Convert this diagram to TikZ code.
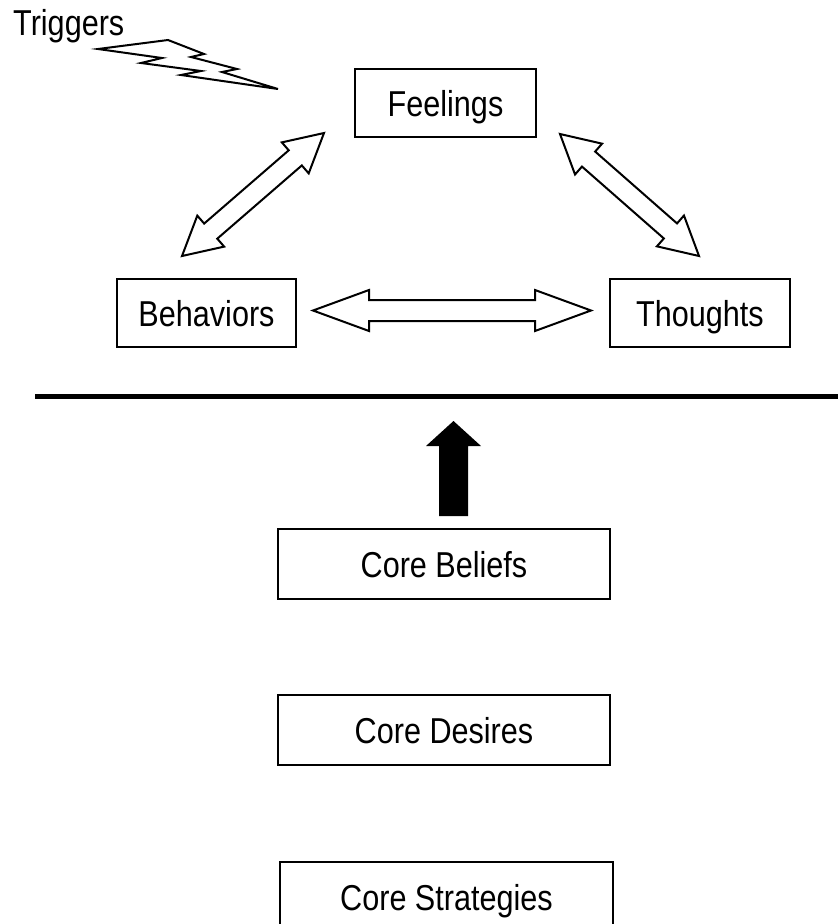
\documentclass[tikz,border=0pt]{standalone}
\usepackage{fontspec}
\setmainfont{Liberation Sans}[FakeStretch=0.85]
\usetikzlibrary{calc}
\tikzset{
  box/.style={draw=black, line width=2pt, rectangle, inner sep=0pt, minimum height=68pt,
              font=\fontsize{36}{42}\selectfont, text height=26pt, text depth=0pt},
  outl/.style={draw=black, line width=2pt, fill=white, line join=miter},
  thickline/.style={draw=black, line width=5pt},
  bolt/.style={draw=black, line width=2pt, line join=miter, fill=white}
}
\newcommand{\dblarrowshape}[5]{%
  \path[outl] (#1)
    -- ($(#1)!#3!(#2)!#4!90:(#2)$)
    -- ($(#1)!#3!(#2)!#5!90:(#2)$)
    -- ($(#2)!#3!(#1)!#5!-90:(#1)$)
    -- ($(#2)!#3!(#1)!#4!-90:(#1)$)
    -- (#2)
    -- ($(#2)!#3!(#1)!#4!90:(#1)$)
    -- ($(#2)!#3!(#1)!#5!90:(#1)$)
    -- ($(#1)!#3!(#2)!#5!-90:(#2)$)
    -- ($(#1)!#3!(#2)!#4!-90:(#2)$)
    -- cycle;}
\begin{document}
\begin{tikzpicture}[x=1pt,y=-1pt]
\useasboundingbox (0,0) rectangle (838,924);
% boxes
\node[box, minimum width=181pt] (feel) at (445.5,103) {Feelings};
\node[box, minimum width=179pt] (beh) at (206.5,313) {Behaviors};
\node[box, minimum width=180pt] (tho) at (700,313) {Thoughts};
\node[box, minimum width=332pt, minimum height=70pt] (bel) at (444,564) {Core Beliefs};
\node[box, minimum width=332pt, minimum height=70pt] (des) at (444,730) {Core Desires};
\node[box, minimum width=333pt, minimum height=70pt] (str) at (446.5,897) {Core Strategies};
% triggers
\node[anchor=base west, inner sep=0pt, font=\fontsize{36}{42}\selectfont] (trig) at (13,35) {Triggers};
\draw[bolt] (98,49) -- (168,40) -- (204,54) -- (191,57) -- (237,69) -- (222,72) -- (278,89)
  -- (181,75) -- (201,71) -- (141,63) -- (162,58) -- cycle;
% double arrows
\coordinate (fbU) at ($(feel.south west)+(-30,-5)$);
\coordinate (fbL) at ($(beh.north west)+(66,-22)$);
\coordinate (ftU) at ($(feel.south east)+(23,-4)$);
\coordinate (ftL) at ($(tho.north west)+(90,-22)$);
\coordinate (btL) at ($(beh.east)+(16,-2.5)$);
\coordinate (btR) at ($(tho.west)+(-18,-2.5)$);
\dblarrowshape{fbU}{fbL}{38pt}{20.5pt}{10pt}
\dblarrowshape{ftU}{ftL}{38pt}{20.5pt}{10pt}
\dblarrowshape{btL}{btR}{56pt}{20.5pt}{10.5pt}
% separating line
\coordinate (lineL) at (35,396);
\coordinate (lineR) at (838,396);
\draw[thickline] (lineL) -- (lineR);
% thick up arrow
\coordinate (upB) at ($(bel.north)+(9.5,-12)$);
\coordinate (upT) at ($(bel.north)+(9.5,-107)$);
\fill[black] (upT) -- ($(upT)+(27.5,25)$) -- ($(upT)+(14.5,25)$) -- ($(upB)+(14.5,0)$)
  -- ($(upB)+(-14.5,0)$) -- ($(upT)+(-14.5,25)$) -- ($(upT)+(-27.5,25)$) -- cycle;
\end{tikzpicture}
\end{document}
